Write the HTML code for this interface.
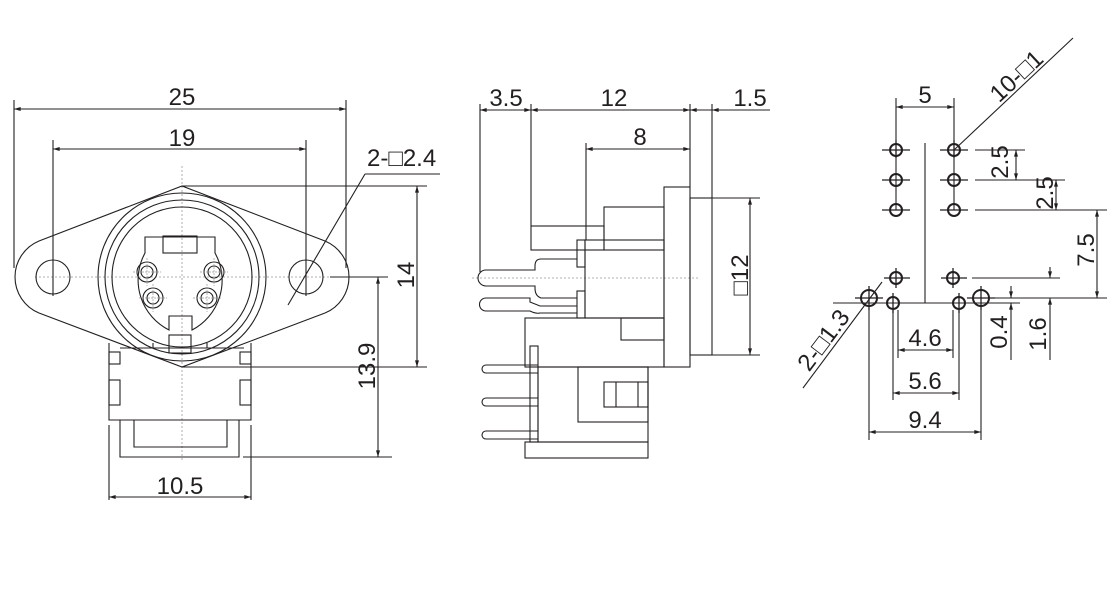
<!DOCTYPE html>
<html><head><meta charset="utf-8"><style>
html,body{margin:0;padding:0;background:#fff;}
svg{display:block;}
text{font-family:"Liberation Sans","DejaVu Sans",sans-serif;font-size:24px;fill:#231f20;}
</style></head><body>
<svg width="1120" height="608" viewBox="0 0 1120 608" xmlns="http://www.w3.org/2000/svg">
<defs>
<marker id="a" viewBox="0 0 10 6" refX="10" refY="3" markerWidth="8" markerHeight="4" orient="auto-start-reverse" markerUnits="userSpaceOnUse"><path d="M0,0 L10,3 L0,6 Z" fill="#231f20"/></marker>
</defs>
<g stroke="#231f20" stroke-width="1.1" fill="none">
<!-- ===== FRONT VIEW ===== -->
<g stroke="#999" stroke-dasharray="2,2" stroke-width="0.8">
<line x1="182" y1="166" x2="182" y2="462"/>
<line x1="35" y1="277" x2="330" y2="277"/>
</g>
<path d="M39,241 L182,186 L325,241 A39,39 0 0 1 325,313 L182,367 L39,313 A39,39 0 0 1 39,241 Z"/>
<circle cx="53" cy="277" r="17"/>
<circle cx="306" cy="277" r="17"/>
<circle cx="182" cy="277" r="84"/>
<circle cx="182" cy="277" r="77"/>
<circle cx="182" cy="277" r="70"/>
<path d="M145,237 H215 V253 A56,56 0 0 1 192,330 V316 H169 V330 A56,56 0 0 1 145,253 Z"/>
<rect x="163" y="236" width="34" height="17"/>
<rect x="169" y="335" width="22" height="18"/>
<g>
<circle cx="147" cy="272" r="10"/><circle cx="147" cy="272" r="6"/>
<circle cx="214" cy="272" r="10"/><circle cx="214" cy="272" r="6"/>
<circle cx="153" cy="298" r="10"/><circle cx="153" cy="298" r="6"/>
<circle cx="207" cy="298" r="10"/><circle cx="207" cy="298" r="6"/>
</g>
<g stroke="#999" stroke-width="0.7" stroke-dasharray="2,1">
<line x1="133" y1="272" x2="161" y2="272"/><line x1="147" y1="258" x2="147" y2="286"/>
<line x1="200" y1="272" x2="228" y2="272"/><line x1="214" y1="258" x2="214" y2="286"/>
<line x1="139" y1="298" x2="167" y2="298"/><line x1="153" y1="284" x2="153" y2="312"/>
<line x1="193" y1="298" x2="221" y2="298"/><line x1="207" y1="284" x2="207" y2="312"/>
</g>
<line x1="153" y1="343" x2="153" y2="348"/><line x1="207" y1="343" x2="207" y2="348"/>
<line x1="120" y1="348" x2="244" y2="348"/>
<path d="M109,343 V420 H251 V343"/>
<rect x="109" y="380" width="11" height="25"/>
<rect x="240" y="380" width="11" height="25"/>
<rect x="109" y="352" width="11" height="12"/>
<rect x="240" y="352" width="11" height="12"/>
<path d="M120,420 V457 H239 V420"/>
<path d="M134,420 V447 H227 V420"/>
<line x1="14" y1="100" x2="14" y2="268"/><line x1="346" y1="100" x2="346" y2="268"/>
<line x1="14" y1="109" x2="346" y2="109" marker-start="url(#a)" marker-end="url(#a)"/>
<line x1="53" y1="140" x2="53" y2="296"/><line x1="306" y1="140" x2="306" y2="296"/>
<line x1="53" y1="149" x2="306" y2="149" marker-start="url(#a)" marker-end="url(#a)"/>
<line x1="182" y1="186" x2="427" y2="186"/><line x1="182" y1="367" x2="427" y2="367"/>
<line x1="417" y1="186" x2="417" y2="367" marker-start="url(#a)" marker-end="url(#a)"/>
<line x1="330" y1="277" x2="388" y2="277"/>
<line x1="243" y1="457" x2="392" y2="457"/>
<line x1="378" y1="277" x2="378" y2="457" marker-start="url(#a)" marker-end="url(#a)"/>
<line x1="109" y1="425" x2="109" y2="500"/><line x1="251" y1="425" x2="251" y2="500"/>
<line x1="109" y1="497" x2="251" y2="497" marker-start="url(#a)" marker-end="url(#a)"/>
<line x1="365" y1="174" x2="440" y2="174"/>
<line x1="365" y1="174" x2="288" y2="305"/>
<!-- ===== SIDE VIEW ===== -->
<line x1="472" y1="278" x2="700" y2="278" stroke="#999" stroke-dasharray="2,2" stroke-width="0.8"/>
<rect x="664" y="187" width="26" height="180"/>
<rect x="690" y="198" width="22" height="157"/>
<rect x="604" y="207" width="60" height="43"/>
<rect x="531" y="226" width="73" height="24"/>
<rect x="585" y="240" width="79" height="78"/>
<rect x="577" y="240" width="8" height="27"/>
<rect x="577" y="291" width="8" height="27"/>
<rect x="525" y="318" width="139" height="49"/>
<rect x="621" y="318" width="43" height="22"/>
<rect x="530" y="346" width="8" height="96"/>
<rect x="538" y="367" width="110" height="75"/>
<rect x="578" y="367" width="70" height="55"/>
<rect x="604" y="382" width="44" height="25"/>
<line x1="616" y1="382" x2="616" y2="407"/><line x1="638" y1="382" x2="638" y2="407"/>
<rect x="525" y="442" width="123" height="16"/>
<path d="M577,259 H541 Q535,259 535,266 V270 H486 A4,4 0 0 0 486,286 H535 V288 Q535,296 541,298 H577"/>
<path d="M577,306 H540 L530,302 V298 H486 A4,4 0 0 0 486,311 H530 Q536,314 540,313 H577"/>
<path d="M538,365 H486 A4,4 0 0 0 486,373 H538"/>
<path d="M538,398 H486 A4,4 0 0 0 486,406 H538"/>
<path d="M538,431 H486 A4,4 0 0 0 486,439 H538"/>
<line x1="480" y1="104" x2="480" y2="272"/>
<line x1="531" y1="104" x2="531" y2="226"/>
<line x1="690" y1="104" x2="690" y2="187"/>
<line x1="712" y1="104" x2="712" y2="198"/>
<line x1="480" y1="110" x2="531" y2="110" marker-start="url(#a)" marker-end="url(#a)"/>
<line x1="531" y1="110" x2="690" y2="110" marker-start="url(#a)" marker-end="url(#a)"/>
<line x1="690" y1="110" x2="712" y2="110" marker-start="url(#a)"/>
<line x1="712" y1="110" x2="770" y2="110" marker-start="url(#a)"/>
<line x1="586" y1="143" x2="586" y2="240"/>
<line x1="586" y1="149" x2="690" y2="149" marker-start="url(#a)" marker-end="url(#a)"/>
<line x1="712" y1="198" x2="760" y2="198"/><line x1="712" y1="355" x2="760" y2="355"/>
<line x1="750" y1="198" x2="750" y2="355" marker-start="url(#a)" marker-end="url(#a)"/>
<!-- ===== PCB VIEW ===== -->
<line x1="925" y1="143" x2="925" y2="303"/>
<line x1="833" y1="303" x2="1020" y2="303"/>
<line x1="896" y1="150" x2="896" y2="210"/><line x1="954" y1="150" x2="954" y2="210"/>
<g stroke-width="1.3">
<line x1="882" y1="150" x2="910" y2="150"/><line x1="882" y1="180" x2="910" y2="180"/><line x1="882" y1="210" x2="910" y2="210"/>
<line x1="940" y1="150" x2="968" y2="150"/><line x1="940" y1="180" x2="968" y2="180"/><line x1="940" y1="210" x2="968" y2="210"/>
<line x1="896" y1="140" x2="896" y2="158"/><line x1="954" y1="140" x2="954" y2="158"/>
<line x1="884" y1="278" x2="910" y2="278"/><line x1="941" y1="278" x2="967" y2="278"/>
<line x1="896" y1="268" x2="896" y2="288"/><line x1="953" y1="268" x2="953" y2="288"/>
<line x1="855" y1="298" x2="883" y2="298"/><line x1="967" y1="298" x2="995" y2="298"/>
<line x1="869" y1="286" x2="869" y2="310"/><line x1="981" y1="286" x2="981" y2="310"/>
<line x1="893" y1="293" x2="893" y2="313"/><line x1="959" y1="293" x2="959" y2="313"/>
</g>
<g stroke-width="2">
<circle cx="896" cy="150" r="6"/><circle cx="896" cy="180" r="6"/><circle cx="896" cy="210" r="6"/>
<circle cx="954" cy="150" r="6"/><circle cx="954" cy="180" r="6"/><circle cx="954" cy="210" r="6"/>
<circle cx="896" cy="278" r="6"/><circle cx="953" cy="278" r="6"/>
<circle cx="893" cy="303" r="6"/><circle cx="959" cy="303" r="6"/>
<circle cx="869" cy="298" r="8"/><circle cx="981" cy="298" r="8"/>
</g>
<line x1="896" y1="98" x2="896" y2="140"/><line x1="954" y1="98" x2="954" y2="140"/>
<line x1="896" y1="107" x2="954" y2="107" marker-start="url(#a)" marker-end="url(#a)"/>
<line x1="954" y1="150" x2="1073" y2="38"/>
<line x1="975" y1="150" x2="1025" y2="150"/>
<line x1="975" y1="180" x2="1065" y2="180"/>
<line x1="975" y1="210" x2="1107" y2="210"/>
<line x1="990" y1="298" x2="1107" y2="298"/>
<line x1="972" y1="278" x2="1060" y2="278"/>
<line x1="1016" y1="150" x2="1016" y2="180" marker-start="url(#a)" marker-end="url(#a)"/>
<line x1="1056" y1="180" x2="1056" y2="210" marker-start="url(#a)" marker-end="url(#a)"/>
<line x1="1097" y1="210" x2="1097" y2="298" marker-start="url(#a)" marker-end="url(#a)"/>
<line x1="1050" y1="267" x2="1050" y2="278" marker-end="url(#a)"/>
<line x1="1050" y1="298" x2="1050" y2="360" marker-start="url(#a)"/>
<line x1="1011" y1="286" x2="1011" y2="298" marker-end="url(#a)"/>
<line x1="1011" y1="303" x2="1011" y2="360" marker-start="url(#a)"/>
<line x1="898" y1="310" x2="898" y2="358"/><line x1="953" y1="310" x2="953" y2="358"/>
<line x1="898" y1="350" x2="953" y2="350" marker-start="url(#a)" marker-end="url(#a)"/>
<line x1="893" y1="310" x2="893" y2="400"/><line x1="959" y1="310" x2="959" y2="400"/>
<line x1="893" y1="393" x2="959" y2="393" marker-start="url(#a)" marker-end="url(#a)"/>
<line x1="869" y1="310" x2="869" y2="440"/><line x1="981" y1="310" x2="981" y2="440"/>
<line x1="869" y1="432" x2="981" y2="432" marker-start="url(#a)" marker-end="url(#a)"/>
<line x1="882" y1="282" x2="803" y2="388"/>
</g>
<g text-anchor="middle">
<text x="182" y="105">25</text>
<text x="182" y="146">19</text>
<text x="180" y="494">10.5</text>
<text x="414" y="275" transform="rotate(-90 414 275)">14</text>
<text x="375" y="366" transform="rotate(-90 375 366)">13.9</text>
<text x="506" y="106">3.5</text>
<text x="614" y="106">12</text>
<text x="750" y="106">1.5</text>
<text x="640" y="145">8</text>
<text x="748" y="275" transform="rotate(-90 748 275)">□12</text>
<text x="925" y="103">5</text>
<text x="925" y="346">4.6</text>
<text x="925" y="389">5.6</text>
<text x="925" y="428">9.4</text>
<text x="1008" y="162" transform="rotate(-90 1008 162)">2.5</text>
<text x="1053" y="193" transform="rotate(-90 1053 193)">2.5</text>
<text x="1094" y="250" transform="rotate(-90 1094 250)">7.5</text>
<text x="1046" y="334" transform="rotate(-90 1046 334)">1.6</text>
<text x="1007" y="332" transform="rotate(-90 1007 332)">0.4</text>
<text x="1022" y="82" transform="rotate(-43 1022 82)">10-□1</text>
<text x="830" y="345" transform="rotate(-53 830 345)">2-□1.3</text>
</g>
<text x="367" y="166">2-□2.4</text>
</svg>
</body></html>
